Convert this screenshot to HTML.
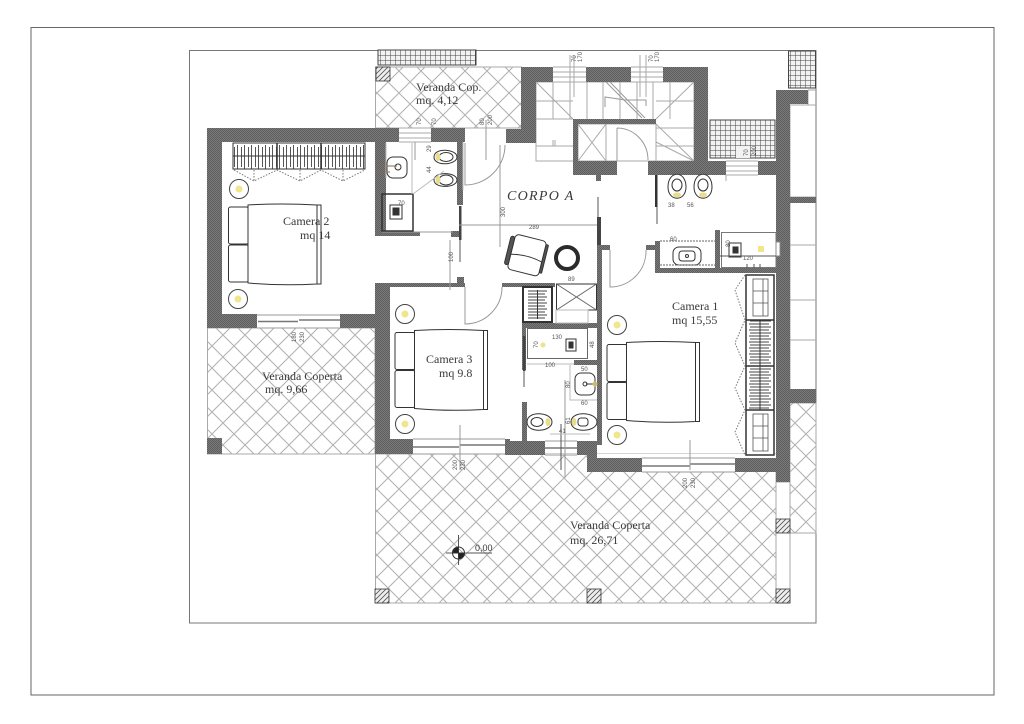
<!DOCTYPE html>
<html><head><meta charset="utf-8"><style>
html,body{margin:0;padding:0;background:#fff}
svg{display:block}
text{font-family:"Liberation Serif",serif;fill:#3a3a3a}
.d{font-family:"Liberation Sans",sans-serif;font-size:6px;fill:#555}
</style></head><body>
<svg width="1024" height="724" viewBox="0 0 1024 724" xmlns="http://www.w3.org/2000/svg">
<defs>
<pattern id="cross" width="22" height="22" patternUnits="userSpaceOnUse" x="3" y="5">
<path d="M0 0L22 22M22 0L0 22" stroke="#b0b0b0" stroke-width="1" fill="none"/>
</pattern>
<pattern id="wall" width="2" height="2" patternUnits="userSpaceOnUse">
<rect width="2" height="2" fill="#7a7a7a"/><rect width="1" height="1" fill="#5e5e5e"/><rect x="1" y="1" width="1" height="1" fill="#5e5e5e"/>
</pattern>
<pattern id="grid" width="5" height="5" patternUnits="userSpaceOnUse">
<rect width="5" height="5" fill="#f2f2f2"/><path d="M0 0H5M0 0V5" stroke="#444" stroke-width="1"/>
</pattern>
<pattern id="hang" width="7" height="27" patternUnits="userSpaceOnUse" x="233" y="143">
<path d="M1.500 4V24M4.500 2V26" stroke="#444" stroke-width=".9"/>
</pattern>
<pattern id="hangv" width="28" height="6" patternUnits="userSpaceOnUse" x="746" y="320">
<path d="M4 1H25M3 4H23" stroke="#444" stroke-width=".9"/>
</pattern>
<pattern id="hs" width="5" height="5" patternUnits="userSpaceOnUse">
<rect width="5" height="5" fill="#eee"/><path d="M-1 6L6 -1M-1 1L1 -1M4 6L6 4" stroke="#555" stroke-width=".8"/>
</pattern>
<g id="lamp"><circle r="9.500" fill="#fff" stroke="#444" stroke-width="1"/><circle r="3.500" fill="#f0e68c"/></g>
</defs>
<rect width="1024" height="724" fill="#fff"/>
<rect x="31" y="27.500" width="963" height="667.500" fill="none" stroke="#666" stroke-width="1"/>
<rect x="189.500" y="50.500" width="626.500" height="572.500" fill="none" stroke="#777" stroke-width="1"/>

<!-- verande -->
<g stroke="#aaa" fill="url(#cross)" stroke-width="1">
<rect x="375.500" y="67" width="146" height="61"/>
<rect x="207.500" y="328" width="167.500" height="126"/>
<rect x="375.500" y="454" width="400.500" height="149"/>
<rect x="790" y="403" width="26" height="130"/>
</g>
<rect x="505" y="454" width="271" height="1.500" fill="#fff"/>
<rect x="587" y="455" width="189" height="17" fill="#fff"/>
<rect x="776" y="482" width="14" height="121" fill="#fff" stroke="#aaa"/>
<rect x="378" y="50" width="98" height="15" fill="url(#grid)" stroke="#444"/>
<rect x="788.500" y="51" width="27" height="37" fill="url(#grid)" stroke="#444"/>
<rect x="710" y="120" width="65" height="38" fill="url(#grid)" stroke="#444"/>
<rect x="736" y="146" width="14" height="12" fill="#f2f2f2"/>

<!-- stairs -->
<g stroke="#aaa" fill="none" stroke-width="1">
<rect x="536" y="82" width="158" height="79"/>
<path d="M536 82L573 119M694 82L656 119M656 142L694 161M536 101H573M536 119H573M536 146H573M656 101H694M656 128H694M656 146H694M553 82V119M570 82V119M587 82V119M603 82V119M620 82V119M637 82V119M653 82V119M670 82V119M553 140V146M555 140V146"/>
<path d="M606 82L642 118M610 82L645 118M605 107V97L625 100M625 100L646 100V106" stroke="#999"/>
<rect x="578" y="124" width="78" height="37"/>
<path d="M578 124L606 161M606 124L578 161M606 124V161M656 124L694 161"/>
<path d="M570 55V97M574 55V97M646 55V97M640 55V97"/>
<path d="M617 128V161M617 128A31 32 0 0 1 648 160" stroke="#999"/>
</g>
<g stroke="#aaa" fill="none">
<path d="M553 67H586M553 72H586M553 77H586M553 82H586M631 67H663M631 72H663M631 77H663M631 82H663"/>
<path d="M726 161H758M726 166H758M726 171H758M726 175H758M726 175V181"/>
<path d="M399 128H431M399 133H431M399 138H431M399 142H431"/>
<path d="M790 105H816M790 197H816M790 245H816M790 300H816M790 340H816M808 90V105M808 90H816"/>
<path d="M790 105V389"/>
<path d="M257 315H340M257 328H340M413 439H505M413 454H505M642 458H735M642 472H735M545 441H577M545 455H577" stroke="#999"/>
</g>
<g stroke="#777" stroke-width="1.500" fill="none">
<path d="M258 321.500H298M299 320H340M413 447H459M460 445H505M642 466H690M690 464H735M545 448H577"/>
</g>

<!-- muri -->
<g fill="url(#wall)">
<path d="M207 128H399V142H222V314H257V328H207Z"/>
<rect x="340" y="314" width="36" height="14"/>
<path d="M375 142H386V232H420V236H375Z"/>
<path d="M431 128H465V142H463V205H457V142H431Z"/>
<rect x="451" y="231" width="8" height="6"/>
<rect x="506" y="130" width="3" height="12"/>
<path d="M521 67H553V82H536V143H506V129H521Z"/>
<rect x="586" y="67" width="45" height="15"/>
<path d="M663 67H708V175H648V161H694V82H663Z"/>
<rect x="648" y="161" width="78" height="14"/>
<path d="M573 119H656V124H578V161H617V175H573Z"/>
<rect x="596" y="175" width="5" height="6"/>
<path d="M758 161H776V90H808V104H790V482H776V175H758Z"/>
<rect x="790" y="197" width="26" height="6"/>
<rect x="790" y="389" width="26" height="14"/>
<path d="M655 241H660V268H715V230H720V268H776V273H655Z"/>
<rect x="646" y="245" width="9" height="5"/>
<path d="M375 283H465V287H390V439H413V454H375Z"/>
<rect x="457" y="277" width="7" height="6"/>
<rect x="502" y="283" width="53" height="4"/>
<rect x="505" y="439" width="5" height="15"/>
<path d="M597 245H602V445H597V458H642V472H587V455H577V441H597V365H574V360H597V328H526V370H522V323H597Z"/>
<rect x="602" y="245" width="8" height="5"/>
<rect x="522" y="402" width="5" height="39"/>
<rect x="505" y="441" width="40" height="14"/>
<rect x="735" y="458" width="41" height="14"/>
<rect x="776" y="458" width="14" height="24"/>
<rect x="207" y="438" width="15" height="16"/>
</g>
<rect x="597" y="217" width="4" height="28" fill="#444"/>
<rect x="655" y="175" width="2.500" height="32" fill="#333"/>
<rect x="459" y="206" width="2.500" height="34" fill="#444"/>
<rect x="523" y="336" width="2.500" height="35" fill="#444"/>
<path d="M598 197V217M657 207V224M460 240V262M524 371V387" stroke="#aaa" stroke-width="2" fill="none"/>
<path d="M453 232H385M382 232H436" stroke="#999" fill="none"/>

<!-- colonne tratteggiate -->
<g fill="url(#hs)" stroke="#333" stroke-width=".8">
<rect x="376" y="67" width="14" height="14"/>
<rect x="375" y="589" width="14" height="14"/>
<rect x="587" y="589" width="14" height="14"/>
<rect x="776" y="589" width="14" height="14"/>
<rect x="776" y="519" width="14" height="14"/>
</g>

<!-- porte -->
<g fill="none" stroke="#999" stroke-width="1">
<path d="M465 143V185A40 40 0 0 0 505 145"/>
<path d="M465 287V324A37 37 0 0 0 502 287"/>
<path d="M610 250V287A36 36 0 0 0 646 250"/>
<path d="M459 225H597M500 145V225M500 225V247M450 240V290M415 142V160M486 120V160M460 425V470M565 380V478M690 440V470"/>
</g>
<path d="M561 424V470" stroke="#555" stroke-width="1"/>

<!-- armadio camera 2 -->
<rect x="233" y="143" width="132" height="26" fill="url(#hang)" stroke="#333"/>
<path d="M233 156H365" stroke="#333"/>
<path d="M277 143V169M321 143V169" stroke="#333" stroke-width="1.500"/>
<path d="M234 170L254 181L277 170L300 181L321 170L343 181L365 170M254 170V181M300 170V181M343 170V181" stroke="#777" stroke-dasharray="1.500 1.500" fill="none"/>

<!-- armadio camera 1 -->
<rect x="746" y="275" width="28" height="180" fill="#fff" stroke="#333" stroke-width="1.500"/>
<rect x="746" y="320" width="28" height="90" fill="url(#hangv)"/>
<path d="M746 320H774M746 366H774M746 410H774" stroke="#333" stroke-width="1.500"/>
<path d="M760 320V410" stroke="#333"/>
<g stroke="#555" fill="none" stroke-width=".8">
<rect x="753" y="279" width="15" height="37"/><path d="M753 291H768M753 303H768M763 279V316"/>
<rect x="753" y="414" width="15" height="37"/><path d="M753 426H768M753 438H768M763 414V451"/>
</g>
<path d="M745 275L735 290L745 320L735 343L745 366L735 388L745 410L735 432L745 455" stroke="#777" stroke-dasharray="1.500 1.500" fill="none"/>

<!-- armadio bagno -->
<rect x="523" y="287" width="29" height="35" fill="#fff" stroke="#333" stroke-width="2"/>
<rect x="528" y="290" width="20" height="29" fill="url(#hangv)"/>
<path d="M537.500 290V319" stroke="#333"/>
<rect x="556.500" y="284" width="40" height="26" fill="#fff" stroke="#333"/>
<path d="M556.500 284L596.500 310M596.500 284L556.500 310" stroke="#666"/>
<rect x="556" y="310" width="32" height="13" fill="#fff" stroke="#bbb"/>

<!-- letti -->
<g fill="#fff" stroke="#333" stroke-width="1">
<g id="bed2">
<rect x="228.500" y="207" width="20" height="37" rx="2"/>
<rect x="228.500" y="245" width="20" height="37" rx="2"/>
<path d="M248 205Q282 203 317 205V284Q282 286 248 283Z"/>
<path d="M317 205H321V284H317Z"/>
</g>
<use href="#bed2" x="166.500" y="125.500"/>
<use href="#bed2" x="378.500" y="137.500"/>
</g>
<use href="#lamp" x="239" y="189"/>
<use href="#lamp" x="238" y="299"/>
<use href="#lamp" x="405" y="314"/>
<use href="#lamp" x="405" y="424"/>
<use href="#lamp" x="617" y="325"/>
<use href="#lamp" x="617" y="435"/>

<!-- poltrona -->
<g transform="rotate(14 526 255)" fill="#fff" stroke="#333">
<rect x="511" y="237" width="32" height="36" rx="4"/>
<path d="M511 258Q527 254 543 258" fill="none"/>
<rect x="507" y="240" width="4" height="29" rx="2" fill="#555"/>
<rect x="543" y="240" width="2.500" height="29" rx="1" fill="#555"/>
</g>
<circle cx="567" cy="258" r="11" fill="none" stroke="#2b2b2b" stroke-width="4"/>

<!-- sanitari bagno 2 -->
<g fill="#fff" stroke="#333" stroke-width="1">
<rect x="387" y="157" width="20" height="21" rx="6"/>
<circle cx="398" cy="167" r="3"/>
<path d="M377 166H397M377 172H390" stroke="#865"/>
<path d="M434 157C434 147 457 149 457 157C457 165 434 167 434 157Z"/>
<ellipse cx="446" cy="157" rx="7" ry="4.500"/>
<path d="M434 180C434 171 457 172 457 180C457 188 434 189 434 180Z"/>
<ellipse cx="446" cy="180" rx="7" ry="5"/>
<rect x="382" y="194" width="31" height="37" fill="none" stroke-width="1.500"/>
<rect x="390" y="205" width="12" height="14"/>
<rect x="393" y="208" width="6" height="7" fill="#333"/>
</g>
<ellipse cx="438" cy="157" rx="2.500" ry="4" fill="#e8dd8c"/>
<ellipse cx="438" cy="180" rx="2.500" ry="4" fill="#e8dd8c"/>
<path d="M386 157V178M412 143V194M386 143V157M413 194L444 171M463 142V190" stroke="#bbb" fill="none"/>

<!-- sanitari bagno 1 -->
<g fill="#fff" stroke="#333" stroke-width="1">
<path d="M668 187C668 170 686 170 686 187C686 202 668 202 668 187Z"/>
<ellipse cx="677" cy="185" rx="5" ry="6"/>
<path d="M694 187C694 170 712 170 712 187C712 202 694 202 694 187Z"/>
<ellipse cx="703" cy="185" rx="5" ry="6"/>
<rect x="673" y="247" width="28" height="18" rx="6"/>
<rect x="679" y="251" width="16" height="10" rx="3"/>
<circle cx="687" cy="256" r="1.500"/>
<rect x="721.500" y="232.500" width="54.500" height="35" stroke="#777"/>
<rect x="729" y="243" width="12" height="14"/>
<rect x="733" y="247" width="5" height="6" fill="#333"/>
<rect x="776" y="242" width="4" height="14" stroke="#888"/>
</g>
<ellipse cx="677" cy="195" rx="4" ry="2.500" fill="#e8dd8c"/>
<ellipse cx="703" cy="195" rx="4" ry="2.500" fill="#e8dd8c"/>
<rect x="758" y="246" width="6" height="6" fill="#f0e68c"/>
<path d="M660 241H715M660 265H715" stroke="#666" stroke-dasharray="2 1"/>
<path d="M720 256H776M747 268V264M754 268V264M760 268V264" stroke="#555" fill="none"/>

<!-- sanitari bagno 3 -->
<g fill="#fff" stroke="#333" stroke-width="1">
<rect x="527.500" y="328.500" width="60" height="30" stroke="#666"/>
<rect x="566" y="339" width="10" height="12"/>
<rect x="569" y="342" width="4" height="6" fill="#333"/>
<rect x="575" y="373" width="20" height="22" rx="6"/>
<circle cx="585" cy="384" r="2"/>
<path d="M586 384H597"/>
<path d="M527 422C527 410 552 412 552 422C552 432 527 434 527 422Z"/>
<ellipse cx="537" cy="422" rx="6" ry="4.500"/>
<path d="M571 422C571 410 597 412 597 422C597 432 571 434 571 422Z"/>
<rect x="578" y="418" width="10" height="8" rx="3"/>
</g>
<circle cx="543" cy="345" r="2.500" fill="#eee28c"/>
<ellipse cx="548" cy="422" rx="2.500" ry="4" fill="#e8dd8c"/>
<ellipse cx="574" cy="422" rx="2.500" ry="4" fill="#e8dd8c"/>
<circle cx="595" cy="384" r="2.500" fill="#c8c070"/>
<path d="M527 364H574M570 365V400H597M550 434H590" stroke="#bbb" fill="none"/>

<!-- 0,00 -->
<g stroke="#333" fill="none">
<path d="M446 553H492M458.500 535V565" stroke="#555"/>
<circle cx="458.500" cy="553" r="6"/>
<path d="M458.500 547A6 6 0 0 0 452.500 553H458.500ZM458.500 553V559A6 6 0 0 0 464.500 553Z" fill="#222"/>
</g>
<text x="475" y="551" font-size="9" style="font-family:'Liberation Sans',sans-serif">0,00</text>

<!-- testi -->
<g font-size="12">
<text x="416" y="91">Veranda Cop.</text>
<text x="416" y="104">mq. 4,12</text>
<text x="283" y="225">Camera 2</text>
<text x="300" y="239">mq 14</text>
<text x="672" y="310">Camera 1</text>
<text x="672" y="324">mq 15,55</text>
<text x="426" y="363">Camera 3</text>
<text x="439" y="377">mq 9.8</text>
<text x="262" y="380">Veranda Coperta</text>
<text x="265" y="393">mq. 9,66</text>
<text x="570" y="529">Veranda Coperta</text>
<text x="570" y="544">mq. 26,71</text>
</g>
<text x="507" y="200" font-size="14" font-style="italic" letter-spacing="1.300">CORPO A</text>

<!-- quote -->
<g class="d">
<text class="d" x="529" y="229">289</text>
<text class="d" x="568" y="281">89</text>
<text class="d" x="668" y="207">38</text>
<text class="d" x="687" y="207">56</text>
<text class="d" x="670" y="241">60</text>
<text class="d" x="743" y="260">120</text>
<text class="d" x="552" y="339">130</text>
<text class="d" x="545" y="367">100</text>
<text class="d" x="581" y="371">50</text>
<text class="d" x="581" y="405">60</text>
<text class="d" x="559" y="433">41</text>
<text class="d" x="398" y="205">70</text>
<text class="d" transform="translate(505 217) rotate(-90)">300</text>
<text class="d" transform="translate(453 262) rotate(-90)">100</text>
<text class="d" transform="translate(576 62) rotate(-90)">70</text>
<text class="d" transform="translate(582 62) rotate(-90)">170</text>
<text class="d" transform="translate(653 62) rotate(-90)">70</text>
<text class="d" transform="translate(659 62) rotate(-90)">170</text>
<text class="d" transform="translate(484 125) rotate(-90)">80</text>
<text class="d" transform="translate(492 125) rotate(-90)">200</text>
<text class="d" transform="translate(421 125) rotate(-90)">70</text>
<text class="d" transform="translate(436 125) rotate(-90)">70</text>
<text class="d" transform="translate(431 152) rotate(-90)">29</text>
<text class="d" transform="translate(431 173) rotate(-90)">44</text>
<text class="d" transform="translate(748 156) rotate(-90)">70</text>
<text class="d" transform="translate(756 156) rotate(-90)">200</text>
<text class="d" transform="translate(730 247) rotate(-90)">80</text>
<text class="d" transform="translate(296 342) rotate(-90)">180</text>
<text class="d" transform="translate(304 342) rotate(-90)">230</text>
<text class="d" transform="translate(457 470) rotate(-90)">200</text>
<text class="d" transform="translate(465 470) rotate(-90)">230</text>
<text class="d" transform="translate(687 488) rotate(-90)">200</text>
<text class="d" transform="translate(695 488) rotate(-90)">230</text>
<text class="d" transform="translate(570 388) rotate(-90)">80</text>
<text class="d" transform="translate(570 424) rotate(-90)">61</text>
<text class="d" transform="translate(594 348) rotate(-90)">48</text>
<text class="d" transform="translate(538 348) rotate(-90)">70</text>
</g>
</svg>
</body></html>
